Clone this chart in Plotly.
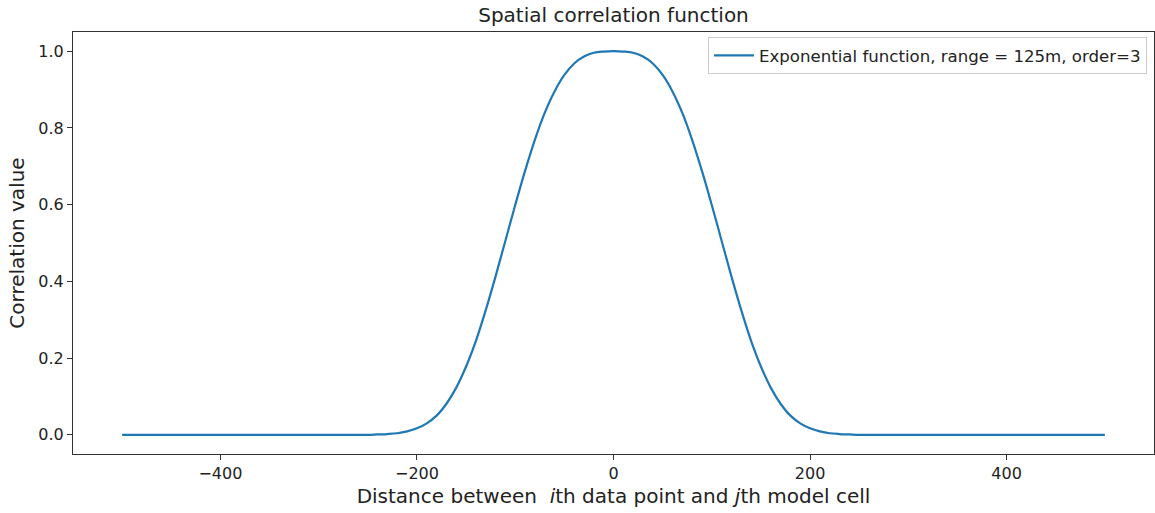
import plotly.graph_objects as go

# Values
distance = [-500, -400, -300, -260, -250, -240, -230, -220, -210, -200, -190, -180, -170, -160,
            -150, -140, -130, -120, -110, -100, -90, -80, -70, -60, -50, -40, -30, -20, -10,
            0, 10, 20, 30, 40, 50, 60, 70, 80, 90, 100, 110, 120, 130, 140, 150,
            160, 170, 180, 190, 200, 210, 220, 230, 240, 250, 260, 300, 400, 500]
correlation = [0.0, 0.0, 0.0, 0.0, 0.0, 0.001, 0.002, 0.004, 0.009, 0.017, 0.030, 0.050, 0.081, 0.123,
               0.178, 0.245, 0.325, 0.413, 0.506, 0.599, 0.688, 0.769, 0.839, 0.895, 0.938, 0.968, 0.986, 0.996, 0.999,
               1.0, 0.999, 0.996, 0.986, 0.968, 0.938, 0.895, 0.839, 0.769, 0.688, 0.599, 0.506, 0.413, 0.325, 0.245, 0.178,
               0.123, 0.081, 0.050, 0.030, 0.017, 0.009, 0.004, 0.002, 0.001, 0.0, 0.0, 0.0, 0.0, 0.0]
x_ticks = [-400, -200, 0, 200, 400]
x_tick_labels = ["\u2212400", "\u2212200", "0", "200", "400"]
y_ticks = [0.0, 0.2, 0.4, 0.6, 0.8, 1.0]
y_tick_labels = ["0.0", "0.2", "0.4", "0.6", "0.8", "1.0"]

FONT = "DejaVu Sans"
INK = "#222222"

fig = go.Figure()
fig.add_trace(go.Scatter(
    x=distance, y=correlation, mode="lines",
    line=dict(color="#1f77b4", width=2.2, shape="spline", smoothing=1.0),
    name="Exponential function, range = 125m, order=3",
))

axis_common = dict(
    showgrid=False, zeroline=False, showline=True, linecolor="#333333", linewidth=1,
    mirror=True, ticks="outside", ticklen=5, tickwidth=1, tickcolor="#333333",
    tickfont=dict(family=FONT, size=16, color=INK),
)

fig.update_layout(
    width=1155, height=513,
    margin=dict(l=73, r=1, t=32, b=59),
    paper_bgcolor="white", plot_bgcolor="white",
    font=dict(family=FONT, color=INK),
    title=dict(text="Spatial correlation function", x=0.5, xref="paper", xanchor="center",
               y=1 - 15 / 513, yref="container", yanchor="middle",
               font=dict(family=FONT, size=20, color=INK)),
    xaxis=dict(range=[-550, 550], tickvals=x_ticks, ticktext=x_tick_labels,
               title=dict(text="Distance between \u00a0<i>i</i>th data point and <i>j</i>th model cell",
                          font=dict(family=FONT, size=20, color=INK), standoff=6),
               **axis_common),
    yaxis=dict(range=[-0.05, 1.05], tickvals=y_ticks, ticktext=y_tick_labels,
               title=dict(text="Correlation value", font=dict(family=FONT, size=20, color=INK),
                          standoff=8),
               **axis_common),
    showlegend=True,
    legend=dict(x=0.9935, y=0.988, xanchor="right", yanchor="top",
                bgcolor="white", bordercolor="#cccccc", borderwidth=1,
                itemwidth=40,
                font=dict(family=FONT, size=16.6, color=INK)),
)

fig.write_html("out.html")
